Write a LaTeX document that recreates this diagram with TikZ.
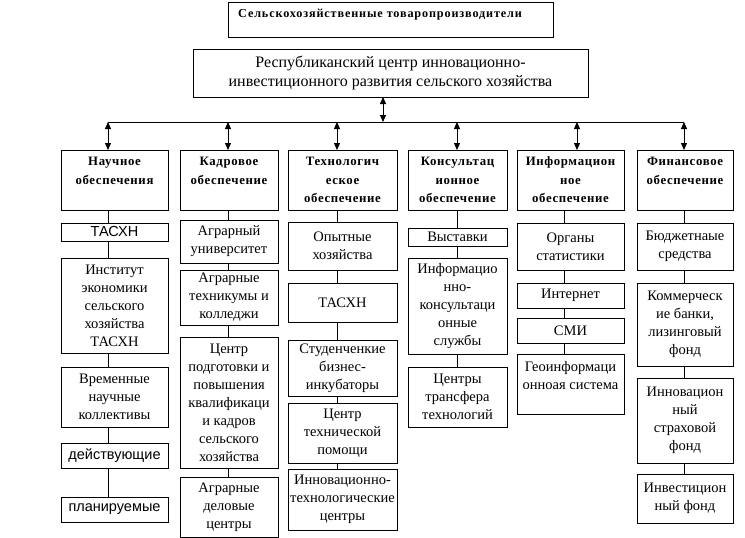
\documentclass[tikz,border=0pt]{standalone}
\usepackage{fontspec}
\setmainfont{Liberation Serif}
\setsansfont{Liberation Sans}
\newfontfamily\hdfont[LetterSpace=5]{Liberation Serif}
\newfontfamily\ttlfont[LetterSpace=7]{Liberation Serif}
\usetikzlibrary{arrows.meta}
\tikzset{
  box/.style={draw, line width=0.9pt, inner sep=0pt, outer sep=0pt, align=center,
    font=\fontsize{14.5}{18}\selectfont},
  hdbox/.style={box, font=\hdfont\bfseries\fontsize{12.8}{18.5}\selectfont},
  sansbox/.style={box, font=\sffamily\fontsize{14.5}{18}\selectfont},
  bigbox/.style={box, font=\fontsize{16}{19}\selectfont},
  conn/.style={line width=0.9pt},
  arr/.style={line width=0.9pt, {Triangle[length=7pt,width=6pt]}-{Triangle[length=7pt,width=6pt]}}
}
\newcommand{\bx}[7][]{\node[box,minimum width=#5pt-#3pt,minimum height=#6pt-#4pt,#1] (#2) at ({(#3+#5)/2},{(#4+#6)/2}) {#7};}
\begin{document}
\begin{tikzpicture}[x=1pt,y=-1pt]
\useasboundingbox (0,0) rectangle (745,538);
% top boxes
\bx{t}{228}{2}{553}{37}{}
\node[anchor=west, inner sep=0pt, font=\ttlfont\bfseries\fontsize{12.2}{14}\selectfont] (ttl) at (238,15) {Сельскохозяйственные товаропроизводители};
\bx[bigbox]{r}{193}{49}{588}{97}{Республиканский центр инновационно-\\инвестиционного развития сельского хозяйства}
% coordinates
\coordinate (cm) at (383,122);
\coordinate (a1) at (108,122);
\coordinate (a2) at (228,122);
\coordinate (a3) at (337,122);
\coordinate (a4) at (457,122);
\coordinate (a5) at (577,122);
\coordinate (a6) at (684,122);
\coordinate (c1) at (108,0);
\coordinate (c2) at (228,0);
\coordinate (c3) at (337,0);
\coordinate (c4) at (457,0);
\coordinate (c5) at (564,0);
\coordinate (c6) at (684,0);
% headers
\bx[hdbox]{h1}{61}{150}{168}{210}{Научное\\обеспечения\\\mbox{}}
\bx[hdbox]{h2}{180}{150}{278}{210}{Кадровое\\обеспечение\\\mbox{}}
\bx[hdbox]{h3}{288}{150}{397}{210}{Технологич\\еское\\обеспечение}
\bx[hdbox]{h4}{408}{150}{507}{210}{Консультац\\ионное\\обеспечение}
\bx[hdbox]{h5}{517}{150}{624}{210}{Информацион\\ное\\обеспечение}
\bx[hdbox]{h6}{637}{150}{733}{210}{Финансовое\\обеспечение\\\mbox{}}
% column 1
\bx[sansbox]{b11}{61}{223}{168}{241}{ТАСХН}
\bx{b12}{61}{258}{168}{353}{Институт\\экономики\\сельского\\хозяйства\\ТАСХН}
\bx{b13}{61}{367}{168}{427}{Временные\\научные\\коллективы}
\bx[sansbox]{b14}{61}{443}{168}{468}{действующие}
\bx[sansbox]{b15}{61}{497}{168}{522}{планируемые}
% column 2
\bx{b21}{180}{220}{278}{263}{Аграрный\\университет}
\bx{b22}{180}{270}{278}{325}{Аграрные\\техникумы и\\колледжи}
\bx{b23}{180}{337}{278}{468}{Центр\\подготовки и\\повышения\\квалификаци\\и кадров\\сельского\\хозяйства}
\bx{b24}{180}{477}{278}{537}{Аграрные\\деловые\\центры}
% column 3
\bx{b31}{288}{222}{397}{270}{Опытные\\хозяйства}
\bx{b32}{288}{283}{397}{322}{ТАСХН}
\bx{b33}{288}{340}{397}{396}{Студенченкие\\бизнес-\\инкубаторы}
\bx{b34}{288}{403}{397}{463}{Центр\\технической\\помощи}
\bx{b35}{288}{469}{397}{530}{Инновационно-\\технологические\\центры}
% column 4
\bx{b41}{408}{228}{507}{246}{Выставки}
\bx{b42}{408}{258}{507}{354}{Информацио\\нно-\\консультаци\\онные\\службы}
\bx{b43}{408}{367}{507}{427}{Центры\\трансфера\\технологий}
% column 5
\bx{b51}{517}{223}{624}{270}{Органы\\статистики}
\bx{b52}{517}{283}{624}{308}{Интернет}
\bx{b53}{517}{318}{624}{343}{СМИ}
\bx{b54}{517}{354}{624}{414}{Геоинформаци\\онноая система\\\mbox{}}
% column 6
\bx{b61}{637}{223}{733}{270}{Бюджетнаые\\средства}
\bx{b62}{637}{283}{733}{366}{Коммерческ\\ие банки,\\лизинговый\\фонд}
\bx{b63}{637}{378}{733}{463}{Инновацион\\ный\\страховой\\фонд}
\bx{b64}{637}{474}{733}{523}{Инвестицион\\ный фонд}
% bus and arrows
\draw[conn] (a1) -- (a6);
\draw[arr] (r.south -| cm) -- (cm);
\foreach \i in {1,...,6} \draw[arr] (a\i) -- (h\i.north -| a\i);
% connectors
\foreach \a/\b in {h1/b11,b11/b12,b12/b13,b13/b14,b14/b15} \draw[conn] (\a.south -| c1) -- (\b.north -| c1);
\foreach \a/\b in {h2/b21,b21/b22,b22/b23,b23/b24} \draw[conn] (\a.south -| c2) -- (\b.north -| c2);
\foreach \a/\b in {h3/b31,b31/b32,b32/b33,b33/b34,b34/b35} \draw[conn] (\a.south -| c3) -- (\b.north -| c3);
\foreach \a/\b in {h4/b41,b41/b42,b42/b43} \draw[conn] (\a.south -| c4) -- (\b.north -| c4);
\foreach \a/\b in {h5/b51,b51/b52,b52/b53,b53/b54} \draw[conn] (\a.south -| c5) -- (\b.north -| c5);
\foreach \a/\b in {h6/b61,b61/b62,b62/b63,b63/b64} \draw[conn] (\a.south -| c6) -- (\b.north -| c6);
\end{tikzpicture}
\end{document}
